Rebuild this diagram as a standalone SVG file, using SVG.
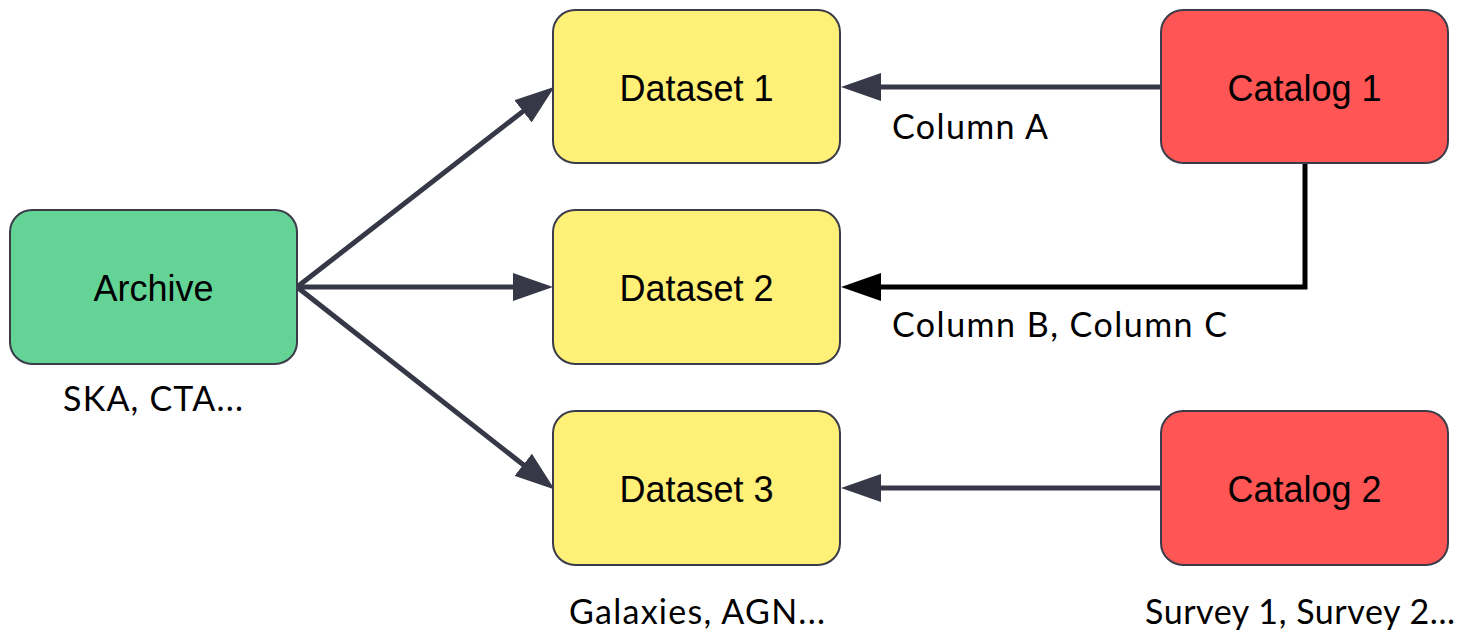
<svg xmlns="http://www.w3.org/2000/svg" width="1469" height="633" viewBox="0 0 1469 633">
<style>
.node rect{stroke:#3b3c4a;stroke-width:2}
.green{fill:#63d396}
.yellow{fill:#fff078}
.red{fill:#ff5555}
.lbl{font-family:"Liberation Sans",Arial,sans-serif;font-size:36px;fill:#000;text-anchor:middle}
.note{font-family:Lato,"Open Sans",sans-serif;font-size:34px;fill:#000}
.edge{fill:none;stroke:#363847;stroke-width:5}
.edge.black{stroke:#000}
</style>
<defs>
<marker id="ah" markerUnits="userSpaceOnUse" viewBox="0 0 40 28" markerWidth="40" markerHeight="28" refX="2" refY="14" orient="auto">
<path d="M0,0 L40,14 L0,28 z" fill="#363847"/>
</marker>
<marker id="ahb" markerUnits="userSpaceOnUse" viewBox="0 0 40 28" markerWidth="40" markerHeight="28" refX="2" refY="14" orient="auto">
<path d="M0,0 L40,14 L0,28 z" fill="#000"/>
</marker>
</defs>
<g id="connectors">
<path class="edge" d="M297,287 L524.6,110.1" marker-end="url(#ah)"/>
<path class="edge" d="M297,287 L515,287" marker-end="url(#ah)"/>
<path class="edge" d="M297,287 L524.8,466" marker-end="url(#ah)"/>
<path class="edge" d="M1161,87 L879,87" marker-end="url(#ah)"/>
<path class="edge black" d="M1305,163 V287 H879" marker-end="url(#ahb)"/>
<path class="edge" d="M1161,488 L879,488" marker-end="url(#ah)"/>
</g>
<g id="archive" class="node">
<rect class="green" x="10" y="210" width="287" height="154" rx="22"/>
<text class="lbl" x="153.5" y="301">Archive</text>
</g>
<g id="dataset1" class="node">
<rect class="yellow" x="553" y="10" width="287" height="153" rx="22"/>
<text class="lbl" x="696.5" y="101">Dataset 1</text>
</g>
<g id="dataset2" class="node">
<rect class="yellow" x="553" y="210" width="287" height="154" rx="22"/>
<text class="lbl" x="696.5" y="301">Dataset 2</text>
</g>
<g id="dataset3" class="node">
<rect class="yellow" x="553" y="411" width="287" height="154" rx="22"/>
<text class="lbl" x="696.5" y="502">Dataset 3</text>
</g>
<g id="catalog1" class="node">
<rect class="red" x="1161" y="10" width="287" height="153" rx="22"/>
<text class="lbl" x="1304.5" y="101">Catalog 1</text>
</g>
<g id="catalog2" class="node">
<rect class="red" x="1161" y="411" width="287" height="154" rx="22"/>
<text class="lbl" x="1304.5" y="502">Catalog 2</text>
</g>
<g id="notes">
<text class="note" x="63" y="411" textLength="180" lengthAdjust="spacing">SKA, CTA...</text>
<text class="note" x="892" y="139" textLength="156" lengthAdjust="spacing">Column A</text>
<text class="note" x="892" y="337" textLength="335" lengthAdjust="spacing">Column B, Column C</text>
<text class="note" x="569" y="624" textLength="256" lengthAdjust="spacing">Galaxies, AGN...</text>
<text class="note" x="1145" y="624" textLength="310" lengthAdjust="spacing">Survey 1, Survey 2...</text>
</g>
</svg>
